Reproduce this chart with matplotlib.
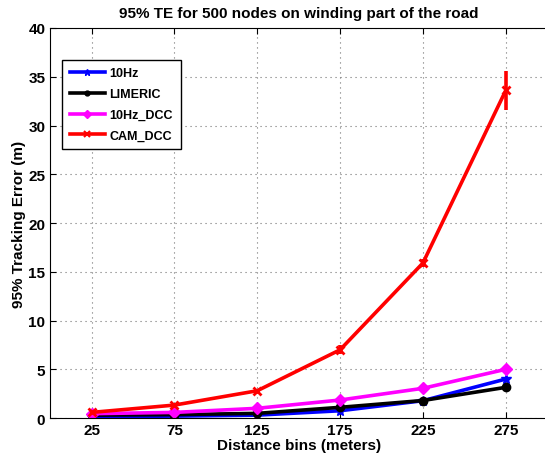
import matplotlib
matplotlib.use('Agg')
import matplotlib.pyplot as plt
from matplotlib.lines import Line2D

plt.rcParams['font.family'] = ['Liberation Sans', 'DejaVu Sans']
plt.rcParams['font.weight'] = 'bold'

# data
bins = [25, 75, 125, 175, 225, 275]
te_10hz = [0.15, 0.2, 0.3, 0.75, 1.78, 4.0]
te_limeric = [0.3, 0.35, 0.48, 1.1, 1.8, 3.15]
te_10hz_dcc = [0.45, 0.58, 1.0, 1.85, 3.05, 5.0]
te_cam_dcc = [0.58, 1.33, 2.8, 7.0, 15.9, 33.6]
err_cam_dcc = [0.15, 0.2, 0.2, 0.45, 0.45, 2.0]
names = ['10Hz', 'LIMERIC', '10Hz_DCC', 'CAM_DCC']

fontsz = 11
lw = 2.6

fig = plt.figure(figsize=(5.45, 4.6), dpi=100)
ax = fig.add_axes([0.092, 0.089, 0.912, 0.848])

ax.plot(bins, te_10hz, c='b', lw=lw, marker='*', ms=7)
ax.plot(bins, te_limeric, c='k', lw=lw, marker='.', ms=12)
ax.plot(bins, te_10hz_dcc, c='magenta', lw=lw, marker='D', ms=6)
ax.errorbar(bins, te_cam_dcc, yerr=err_cam_dcc, c='r', lw=lw, elinewidth=2.6,
            marker='x', ms=6, mew=2, capsize=0)

ax.set_xlim(0, 300)
ax.set_ylim(0, 40)
ax.set_xticks(bins)
ax.set_yticks(range(0, 45, 5))
ax.grid(True, ls=(0, (1, 3.5)), c='0.45', lw=0.8)
ax.tick_params(axis='both', direction='in', labelsize=fontsz, length=4, top=True)
ax.spines['right'].set_visible(False)

ax.set_title('95% TE for 500 nodes on winding part of the road', fontsize=fontsz,
             fontweight='bold', pad=8)
ax.set_xlabel('Distance bins (meters)', fontsize=fontsz, fontweight='bold', labelpad=1)
ax.set_ylabel('95% Tracking Error (m)', fontsize=fontsz, fontweight='bold', labelpad=2)

# legend handles like matlab: line with one small marker
hnd = [Line2D([], [], c='b', lw=lw, marker='*', ms=5),
       Line2D([], [], c='k', lw=lw, marker='.', ms=7),
       Line2D([], [], c='magenta', lw=lw, marker='D', ms=4),
       Line2D([], [], c='r', lw=lw, marker='x', ms=4, mew=1.5)]
leg = ax.legend(hnd, names, loc='upper left', bbox_to_anchor=(0.024, 0.918), fancybox=False,
                edgecolor='k', framealpha=1, fontsize=9, numpoints=1,
                handlelength=2.8, borderpad=0.6, labelspacing=0.7, handletextpad=0.4,
                borderaxespad=0)
leg.get_frame().set_linewidth(1.0)

plt.savefig('out.png', dpi=100)
plt.close()
